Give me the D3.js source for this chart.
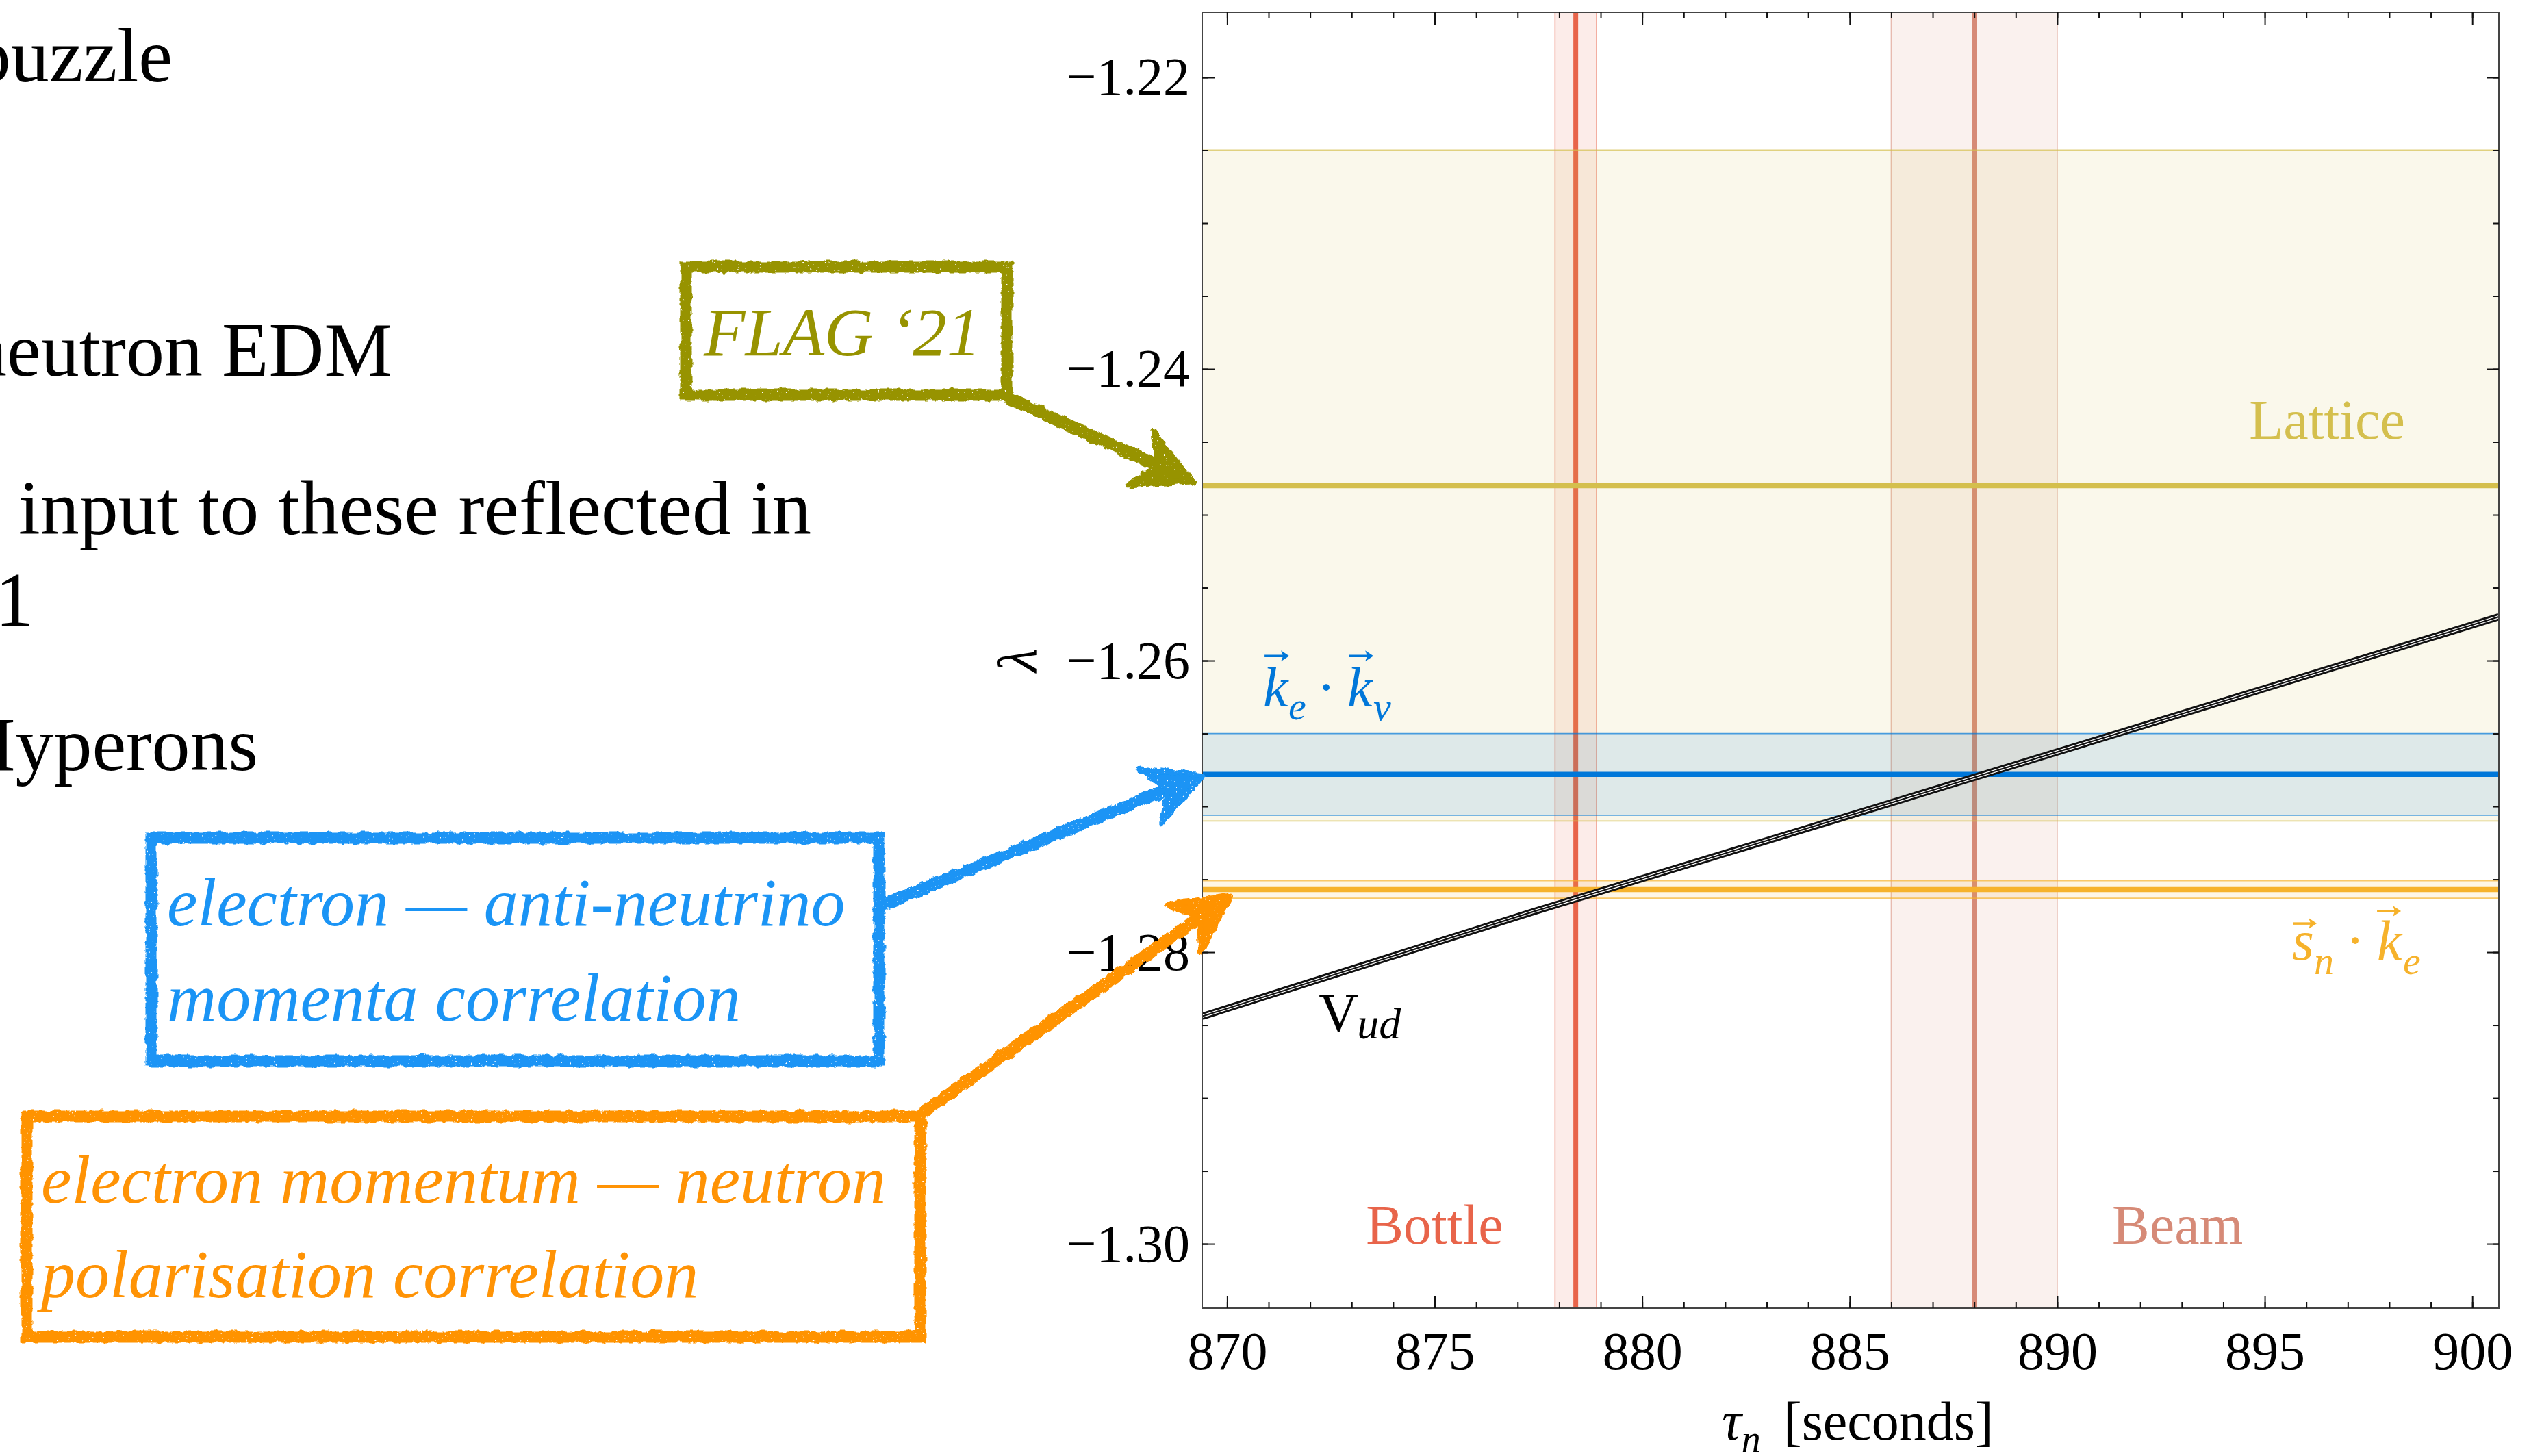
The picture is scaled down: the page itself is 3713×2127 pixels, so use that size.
<!DOCTYPE html>
<html>
<head>
<meta charset="utf-8">
<script src="https://cdn.jsdelivr.net/npm/d3@7"></script>
<style>
  body { margin: 0; background: #fff; }
  svg { display: block; }
  text { font-family: "Liberation Serif", "DejaVu Serif", serif; }
</style>
</head>
<body>
<div id="chart"></div>
<script>
// values
var tauTicks = [870, 875, 880, 885, 890, 895, 900];
var lambdaTicks = [-1.30, -1.28, -1.26, -1.24, -1.22];

// neutron lifetime measurements (vertical bands)
var lifetimeNames = ["Bottle", "Beam"];
var lifetimeValues = [878.4, 888.0];
var lifetimeErrors = [0.5, 2.0];

// lambda determinations (horizontal bands)
var lambdaNames = ["Lattice", "ke.kv", "sn.ke"];
var lambdaValues = [-1.248, -1.2678, -1.2757];
var lambdaErrors = [0.023, 0.0028, 0.0006];

// Vud relation between tau_n and lambda
var vudTau = [869.4, 877.4, 885.6, 900.64];
var vudLambda = [-1.2844, -1.2772, -1.2701, -1.2570];

var lifetimeColors = ["#e8644a", "#d68a77"];
var lambdaColors = ["#d4bf4d", "#0077d9", "#f6b22b"];
var lambdaFill = [0.11, 0.11, 0.12];

var svgWidth = 3713, svgHeight = 2127;
var plot = { left: 1756, right: 3650, top: 18, bottom: 1911 };

var svg = d3.select("#chart").append("svg")
    .attr("width", svgWidth)
    .attr("height", svgHeight)
    .style("background", "#fff");

var defs = svg.append("defs");

// hand drawn look for the annotation boxes and arrows
var rough = defs.append("filter").attr("id", "rough")
    .attr("filterUnits", "userSpaceOnUse")
    .attr("x", 0).attr("y", 0).attr("width", svgWidth).attr("height", svgHeight);
rough.append("feTurbulence").attr("type", "fractalNoise").attr("baseFrequency", 0.08)
    .attr("numOctaves", 3).attr("seed", 7).attr("result", "noise");
rough.append("feDisplacementMap").attr("in", "SourceGraphic").attr("in2", "noise")
    .attr("scale", 8).attr("xChannelSelector", "R").attr("yChannelSelector", "G").attr("result", "moved");
rough.append("feTurbulence").attr("type", "fractalNoise").attr("baseFrequency", 0.4)
    .attr("numOctaves", 1).attr("seed", 3).attr("result", "grain");
rough.append("feColorMatrix").attr("in", "grain").attr("type", "matrix")
    .attr("values", "0 0 0 0 0  0 0 0 0 0  0 0 0 0 0  14 0 0 0 -3.2").attr("result", "mask");
rough.append("feComposite").attr("in", "moved").attr("in2", "mask").attr("operator", "in");

defs.append("clipPath").attr("id", "plotClip")
    .append("rect")
    .attr("x", plot.left).attr("y", plot.top)
    .attr("width", plot.right - plot.left).attr("height", plot.bottom - plot.top);

var x = d3.scaleLinear().domain([869.4, 900.64]).range([plot.left, plot.right]);
var y = d3.scaleLinear().domain([-1.30441, -1.21554]).range([plot.bottom, plot.top]);

// ---- slide text on the left (cut off by the slide edge)
var slide = svg.append("g").attr("fill", "#000").style("font-size", "112px");
slide.append("text").attr("x", 252).attr("y", 119).attr("text-anchor", "end").text("puzzle");
slide.append("text").attr("x", 573).attr("y", 549).attr("text-anchor", "end").text("neutron EDM");
slide.append("text").attr("x", 27).attr("y", 780)
    .attr("textLength", 1158).attr("lengthAdjust", "spacingAndGlyphs")
    .text("input to these reflected in");
slide.append("text").attr("x", 49).attr("y", 914).attr("text-anchor", "end").text("1");
slide.append("text").attr("x", 377).attr("y", 1125).attr("text-anchor", "end").text("Hyperons");

// ---- plot contents
var chart = svg.append("g").attr("clip-path", "url(#plotClip)");

// lifetime bands
lifetimeValues.forEach(function (v, i) {
    var c = lifetimeColors[i];
    var x0 = x(v - lifetimeErrors[i]), x1 = x(v + lifetimeErrors[i]);
    chart.append("rect")
        .attr("x", x0).attr("y", plot.top)
        .attr("width", x1 - x0).attr("height", plot.bottom - plot.top)
        .attr("fill", c).attr("fill-opacity", 0.12);
    [x0, x1].forEach(function (xx) {
        chart.append("line")
            .attr("x1", xx).attr("x2", xx).attr("y1", plot.top).attr("y2", plot.bottom)
            .attr("stroke", c).attr("stroke-opacity", 0.55).attr("stroke-width", 1.6);
    });
    chart.append("line")
        .attr("x1", x(v)).attr("x2", x(v)).attr("y1", plot.top).attr("y2", plot.bottom)
        .attr("stroke", c).attr("stroke-width", 7);
});

// lambda bands
lambdaValues.forEach(function (v, i) {
    var c = lambdaColors[i];
    var y0 = y(v + lambdaErrors[i]), y1 = y(v - lambdaErrors[i]);
    chart.append("rect")
        .attr("x", plot.left).attr("y", y0)
        .attr("width", plot.right - plot.left).attr("height", y1 - y0)
        .attr("fill", c).attr("fill-opacity", lambdaFill[i]);
    [y0, y1].forEach(function (yy) {
        chart.append("line")
            .attr("x1", plot.left).attr("x2", plot.right).attr("y1", yy).attr("y2", yy)
            .attr("stroke", c).attr("stroke-opacity", 0.7).attr("stroke-width", 1.8);
    });
});
lambdaValues.forEach(function (v, i) {
    chart.append("line")
        .attr("x1", plot.left).attr("x2", plot.right).attr("y1", y(v)).attr("y2", y(v))
        .attr("stroke", lambdaColors[i]).attr("stroke-width", 7.5);
});

// Vud line, drawn as a triple striped black line
var vudLine = d3.line().x(function (d) { return x(d[0]); }).y(function (d) { return y(d[1]); });
var vudData = d3.zip(vudTau, vudLambda);
chart.append("path").datum(vudData).attr("d", vudLine)
    .attr("fill", "none").attr("stroke", "#111").attr("stroke-width", 10.5);
chart.append("path").datum(vudData).attr("d", vudLine)
    .attr("fill", "none").attr("stroke", "#fff").attr("stroke-width", 4.6);
chart.append("path").datum(vudData).attr("d", vudLine)
    .attr("fill", "none").attr("stroke", "#111").attr("stroke-width", 2.2);

// ---- frame and ticks
svg.append("rect")
    .attr("x", plot.left).attr("y", plot.top)
    .attr("width", plot.right - plot.left).attr("height", plot.bottom - plot.top)
    .attr("fill", "none").attr("stroke", "#444").attr("stroke-width", 2);

var tickFont = "78px";
var minorTau = d3.range(870, 901, 1);
var minorLambda = d3.range(-1.30, -1.2199, 0.005);

function styleAxis(g) {
    g.select(".domain").remove();
    g.selectAll(".tick line").attr("stroke", "#111").attr("stroke-width", 2);
    g.selectAll("text").style("font-family", "'Liberation Serif', serif").style("font-size", tickFont).attr("fill", "#000");
}

svg.append("g").attr("transform", "translate(0," + plot.bottom + ")")
    .call(d3.axisBottom(x).tickValues(minorTau).tickSize(-9).tickFormat(""))
    .call(styleAxis);
svg.append("g").attr("transform", "translate(0," + plot.bottom + ")")
    .call(d3.axisBottom(x).tickValues(tauTicks).tickSize(-18).tickPadding(34).tickFormat(d3.format("d")))
    .call(styleAxis);
svg.append("g").attr("transform", "translate(0," + plot.top + ")")
    .call(d3.axisTop(x).tickValues(minorTau).tickSize(-9).tickFormat(""))
    .call(styleAxis);
svg.append("g").attr("transform", "translate(0," + plot.top + ")")
    .call(d3.axisTop(x).tickValues(tauTicks).tickSize(-18).tickFormat(""))
    .call(styleAxis);

svg.append("g").attr("transform", "translate(" + plot.left + ",0)")
    .call(d3.axisLeft(y).tickValues(minorLambda).tickSize(-9).tickFormat(""))
    .call(styleAxis);
svg.append("g").attr("transform", "translate(" + plot.left + ",0)")
    .call(d3.axisLeft(y).tickValues(lambdaTicks).tickSize(-18).tickPadding(18).tickFormat(d3.format(".2f")))
    .call(styleAxis);
svg.append("g").attr("transform", "translate(" + plot.right + ",0)")
    .call(d3.axisRight(y).tickValues(minorLambda).tickSize(-9).tickFormat(""))
    .call(styleAxis);
svg.append("g").attr("transform", "translate(" + plot.right + ",0)")
    .call(d3.axisRight(y).tickValues(lambdaTicks).tickSize(-18).tickFormat(""))
    .call(styleAxis);

// axis titles
var xTitle = svg.append("text").attr("x", 2515).attr("y", 2103).style("font-size", "80px").attr("fill", "#000");
xTitle.append("tspan").style("font-style", "italic").text("τ");
xTitle.append("tspan").style("font-style", "italic").style("font-size", "56px").attr("dy", 18).text("n");
xTitle.append("tspan").attr("x", 2605).attr("dy", -18).text("[seconds]");

svg.append("text")
    .attr("transform", "translate(1513," + ((plot.top + plot.bottom) / 2) + ") rotate(-90)")
    .attr("text-anchor", "middle")
    .style("font-size", "80px").style("font-style", "italic")
    .text("λ");

// ---- labels inside the plot
svg.append("text").attr("x", x(896.5)).attr("y", y(-1.2448)).attr("text-anchor", "middle")
    .attr("fill", lambdaColors[0]).style("font-size", "82px").text("Lattice");
svg.append("text").attr("x", x(875.0)).attr("y", y(-1.3000)).attr("text-anchor", "middle")
    .attr("fill", lifetimeColors[0]).style("font-size", "82px").text(lifetimeNames[0]);
svg.append("text").attr("x", x(892.9)).attr("y", y(-1.3000)).attr("text-anchor", "middle")
    .attr("fill", lifetimeColors[1]).style("font-size", "82px").text(lifetimeNames[1]);

function vecArrow(g, x0, yy, w, color) {
    g.append("line").attr("x1", x0).attr("x2", x0 + w - 4).attr("y1", yy).attr("y2", yy)
        .attr("stroke", color).attr("stroke-width", 3.5);
    g.append("path")
        .attr("d", "M" + (x0 + w) + "," + yy + " L" + (x0 + w - 12) + "," + (yy - 8) +
              " L" + (x0 + w - 9) + "," + yy + " L" + (x0 + w - 12) + "," + (yy + 8) + "Z")
        .attr("fill", color);
}

// k_e . k_nu
(function () {
    var sx = x(870.87), by = y(-1.26315), c = lambdaColors[1];
    var g = svg.append("g").attr("fill", c).style("font-style", "italic");
    g.append("text").attr("x", sx).attr("y", by).style("font-size", "82px").text("k");
    g.append("text").attr("x", sx + 37).attr("y", by + 19).style("font-size", "58px").text("e");
    g.append("text").attr("x", sx + 92).attr("y", by).attr("text-anchor", "middle")
        .style("font-style", "normal").style("font-size", "82px").text("·");
    g.append("text").attr("x", sx + 123).attr("y", by).style("font-size", "82px").text("k");
    g.append("text").attr("x", sx + 161).attr("y", by + 20).style("font-size", "58px").text("ν");
    vecArrow(g, sx + 2, by - 74, 36, c);
    vecArrow(g, sx + 125, by - 74, 36, c);
})();

// s_n . k_e
(function () {
    var sx = x(895.66), by = y(-1.28052), c = lambdaColors[2];
    var g = svg.append("g").attr("fill", c).style("font-style", "italic");
    g.append("text").attr("x", sx).attr("y", by).style("font-size", "82px").text("s");
    g.append("text").attr("x", sx + 32).attr("y", by + 21).style("font-size", "58px").text("n");
    g.append("text").attr("x", sx + 92).attr("y", by).attr("text-anchor", "middle")
        .style("font-style", "normal").style("font-size", "82px").text("·");
    g.append("text").attr("x", sx + 124).attr("y", by).style("font-size", "82px").text("k");
    g.append("text").attr("x", sx + 162).attr("y", by + 21).style("font-size", "58px").text("e");
    vecArrow(g, sx + 1, by - 53, 35, c);
    vecArrow(g, sx + 124, by - 71, 35, c);
})();

// V_ud
(function () {
    var sx = x(872.21), by = y(-1.28545);
    var g = svg.append("g").attr("fill", "#000");
    g.append("text").attr("x", sx).attr("y", by).style("font-size", "80px").text("V");
    g.append("text").attr("x", sx + 56).attr("y", by + 10).style("font-size", "64px")
        .style("font-style", "italic").text("ud");
})();

// ---- hand drawn annotation boxes with arrows
function sketchBox(x0, y0, x1, y1, color) {
    svg.append("rect")
        .attr("x", x0).attr("y", y0).attr("width", x1 - x0).attr("height", y1 - y0)
        .attr("fill", "none").attr("stroke", color).attr("stroke-width", 17)
        .attr("filter", "url(#rough)");
}

function sketchArrow(x0, y0, x1, y1, color) {
    var dx = x1 - x0, dy = y1 - y0, len = Math.hypot(dx, dy);
    var ux = dx / len, uy = dy / len, px = -uy, py = ux;
    var g = svg.append("g").attr("filter", "url(#rough)");
    g.append("line")
        .attr("x1", x0).attr("y1", y0)
        .attr("x2", x1 - ux * 50).attr("y2", y1 - uy * 50)
        .attr("stroke", color).attr("stroke-width", 18).attr("stroke-linecap", "round");
    var head = [
        [x1, y1],
        [x1 - 83 * ux + 43 * px, y1 - 83 * uy + 43 * py],
        [x1 - 55 * ux, y1 - 55 * uy],
        [x1 - 83 * ux - 43 * px, y1 - 83 * uy - 43 * py]
    ];
    g.append("path")
        .attr("d", "M" + head.map(function (p) { return p[0] + "," + p[1]; }).join("L") + "Z")
        .attr("fill", color).attr("stroke", color).attr("stroke-width", 8)
        .attr("stroke-linejoin", "round");
}

var flagColor = "#979300", blueBox = "#1a94f5", orangeBox = "#ff9305";

sketchBox(1002, 390, 1471, 577, flagColor);
sketchArrow(1477, 583, plot.left - 14, y(lambdaValues[0]) - 6, flagColor);
svg.append("text").attr("x", 1028).attr("y", 519).attr("fill", flagColor)
    .style("font-size", "99px").style("font-style", "italic").text("FLAG ‘21");

sketchBox(221, 1224, 1284, 1550, blueBox);
sketchArrow(1289, 1322, plot.left + 1, y(lambdaValues[1]) + 1, blueBox);
var bt = svg.append("g").attr("fill", blueBox).style("font-size", "100px").style("font-style", "italic");
bt.append("text").attr("x", 244).attr("y", 1352).text("electron — anti-neutrino");
bt.append("text").attr("x", 244).attr("y", 1491).text("momenta correlation");

sketchBox(39, 1631, 1344, 1953, orangeBox);
sketchArrow(1345, 1627, plot.left + 41, y(lambdaValues[2]) + 9, orangeBox);
var ot = svg.append("g").attr("fill", orangeBox).style("font-size", "100px").style("font-style", "italic");
ot.append("text").attr("x", 60).attr("y", 1757).text("electron momentum — neutron");
ot.append("text").attr("x", 60).attr("y", 1895).text("polarisation correlation");
</script>
</body>
</html>
